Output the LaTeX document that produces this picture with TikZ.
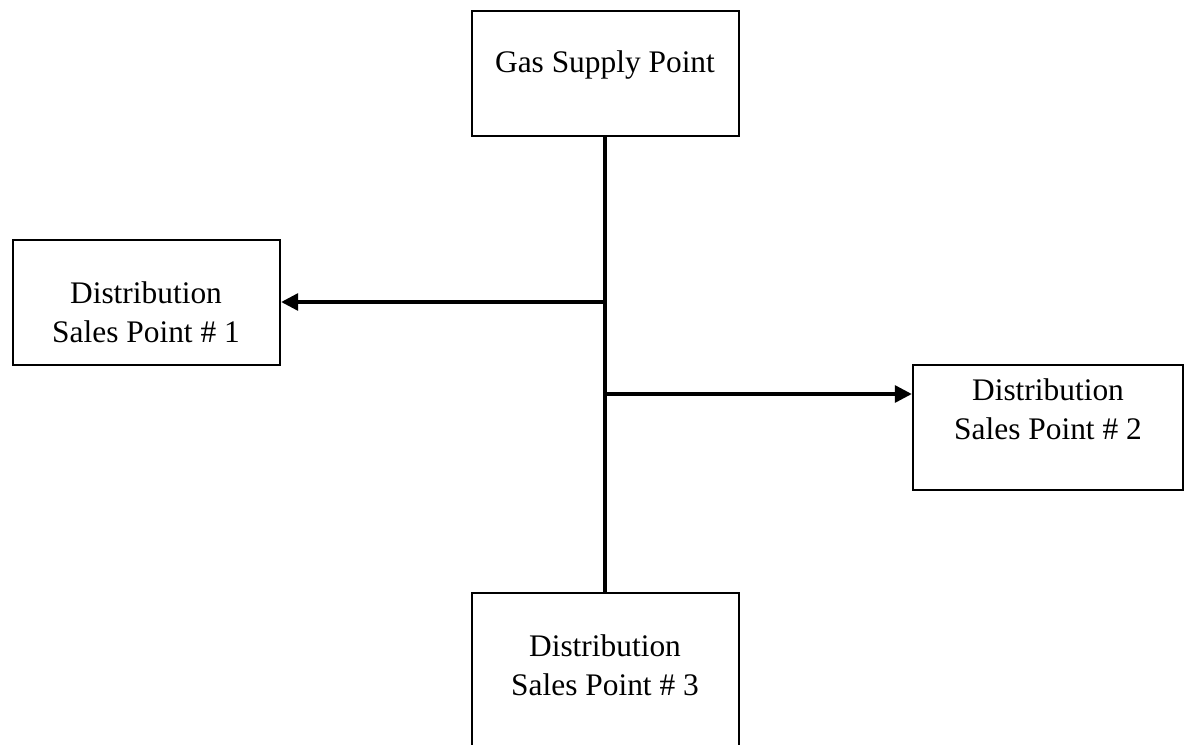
\documentclass[tikz,border=0pt]{standalone}
\usepackage{fontspec}
\setmainfont{Liberation Serif}
\usetikzlibrary{arrows.meta}
\begin{document}
\begin{tikzpicture}[x=0.5pt,y=-0.5pt,
  box/.style={draw, line width=1.2pt, rectangle, inner sep=0pt},
  lbl/.style={font=\fontsize{15.7}{17.5}\selectfont, align=center, inner sep=0pt},
  pipe/.style={line width=1.6pt},
  feed/.style={line width=1.6pt, -{Triangle[length=8.5pt,width=8.5pt]}}]
  \clip (0,0) rectangle (1185,745);
  \fill[white] (0,0) rectangle (1185,745);

  % boxes
  \node[box, minimum width=133.5pt, minimum height=62.5pt] (supply) at (605.5,73.5) {};
  \node[box, minimum width=133.5pt, minimum height=62.5pt] (dsp1) at (146.5,302.5) {};
  \node[box, minimum width=135pt, minimum height=62.5pt] (dsp2) at (1048,427.5) {};
  \node[box, minimum width=133.5pt, minimum height=110pt] (dsp3) at (605.5,703) {};

  % labels
  \node[lbl] (tsupply) at (605,65) {Gas Supply Point};
  \node[lbl] (tdsp1) at (146,312) {Distribution\\[2pt]Sales Point \# 1};
  \node[lbl] (tdsp2) at (1048,409) {Distribution\\[2pt]Sales Point \# 2};
  \node[lbl] (tdsp3) at (605,665) {Distribution\\[2pt]Sales Point \# 3};

  % branch points on the main line
  \coordinate (j1) at (605,302);
  \coordinate (j2) at (605,394);

  % main line and branches
  \draw[pipe] (supply.south -| j1) -- (dsp3.north -| j1);
  \draw[feed] (j1) -- (dsp1.east |- j1);
  \draw[feed] (j2) -- (dsp2.west |- j2);
\end{tikzpicture}
\end{document}
